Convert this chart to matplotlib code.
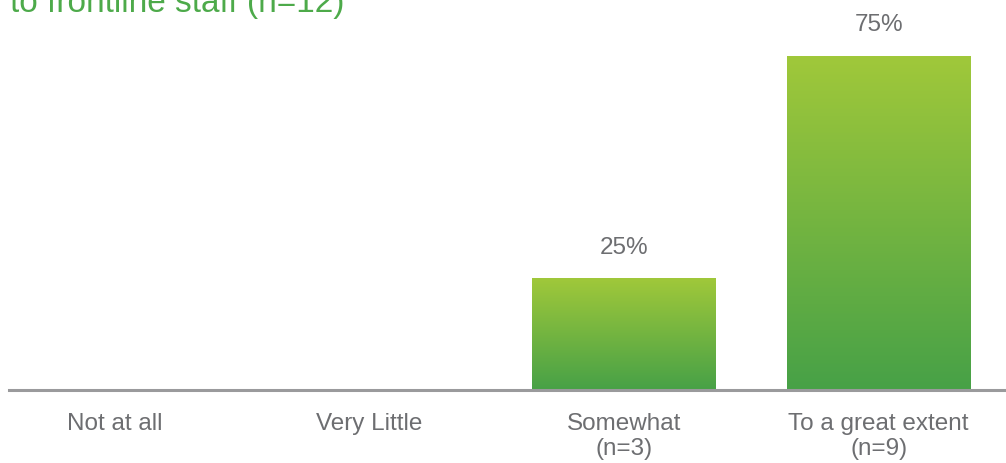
import matplotlib
matplotlib.use('Agg')
import matplotlib.pyplot as plt
import numpy as np
from matplotlib.colors import LinearSegmentedColormap

plt.rcParams['font.family'] = ['Liberation Sans', 'DejaVu Sans']

categories = ['Not at all', 'Very Little', 'Somewhat\n(n=3)', 'To a great extent\n(n=9)']
shares = [0.0, 0.0, 0.25, 0.75]
value_labels = ['', '', '25%', '75%']
title = 'to frontline staff (n=12)'

green_top = '#a0c83a'
green_bottom = '#47a147'
label_grey = '#6d6e71'
title_green = '#4daa4a'

fig = plt.figure(figsize=(10.06, 4.64), dpi=100)
ax = fig.add_axes([9 / 1006, 73 / 464, 997 / 1006, 378 / 464])

x = np.arange(len(categories))
bars = ax.bar(x, shares, width=0.72, color='none', edgecolor='none')

# vertical gradient inside each bar, lighter at the top
grad_cmap = LinearSegmentedColormap.from_list('bar_green', [green_bottom, green_top])
grad = np.linspace(0, 1, 256).reshape(-1, 1)
for rect in bars:
    h = rect.get_height()
    if h <= 0:
        continue
    x0 = rect.get_x()
    ax.imshow(grad, cmap=grad_cmap, origin='lower', aspect='auto',
              extent=[x0, x0 + rect.get_width(), 0, h], zorder=2)

for xi, val, txt in zip(x, shares, value_labels):
    if txt:
        ax.text(xi, val + 0.072, txt, ha='center', va='center',
                fontsize=17.5, color=label_grey, clip_on=False)

ax.set_xlim(-0.416, 3.5)
ax.set_ylim(0, 0.85)

for side in ['top', 'right', 'left']:
    ax.spines[side].set_visible(False)
ax.spines['bottom'].set_color('#9a9a9c')
ax.spines['bottom'].set_linewidth(2.2)
ax.set_yticks([])
ax.set_xticks(x)
ax.set_xticklabels(categories, fontsize=17.5, color=label_grey, linespacing=1.18)
ax.tick_params(axis='x', length=0, pad=16)

fig.text(10 / 1006, 1 - 12 / 464, title, ha='left', va='baseline',
         fontsize=24, color=title_green)

fig.savefig('out.png', dpi=100)
